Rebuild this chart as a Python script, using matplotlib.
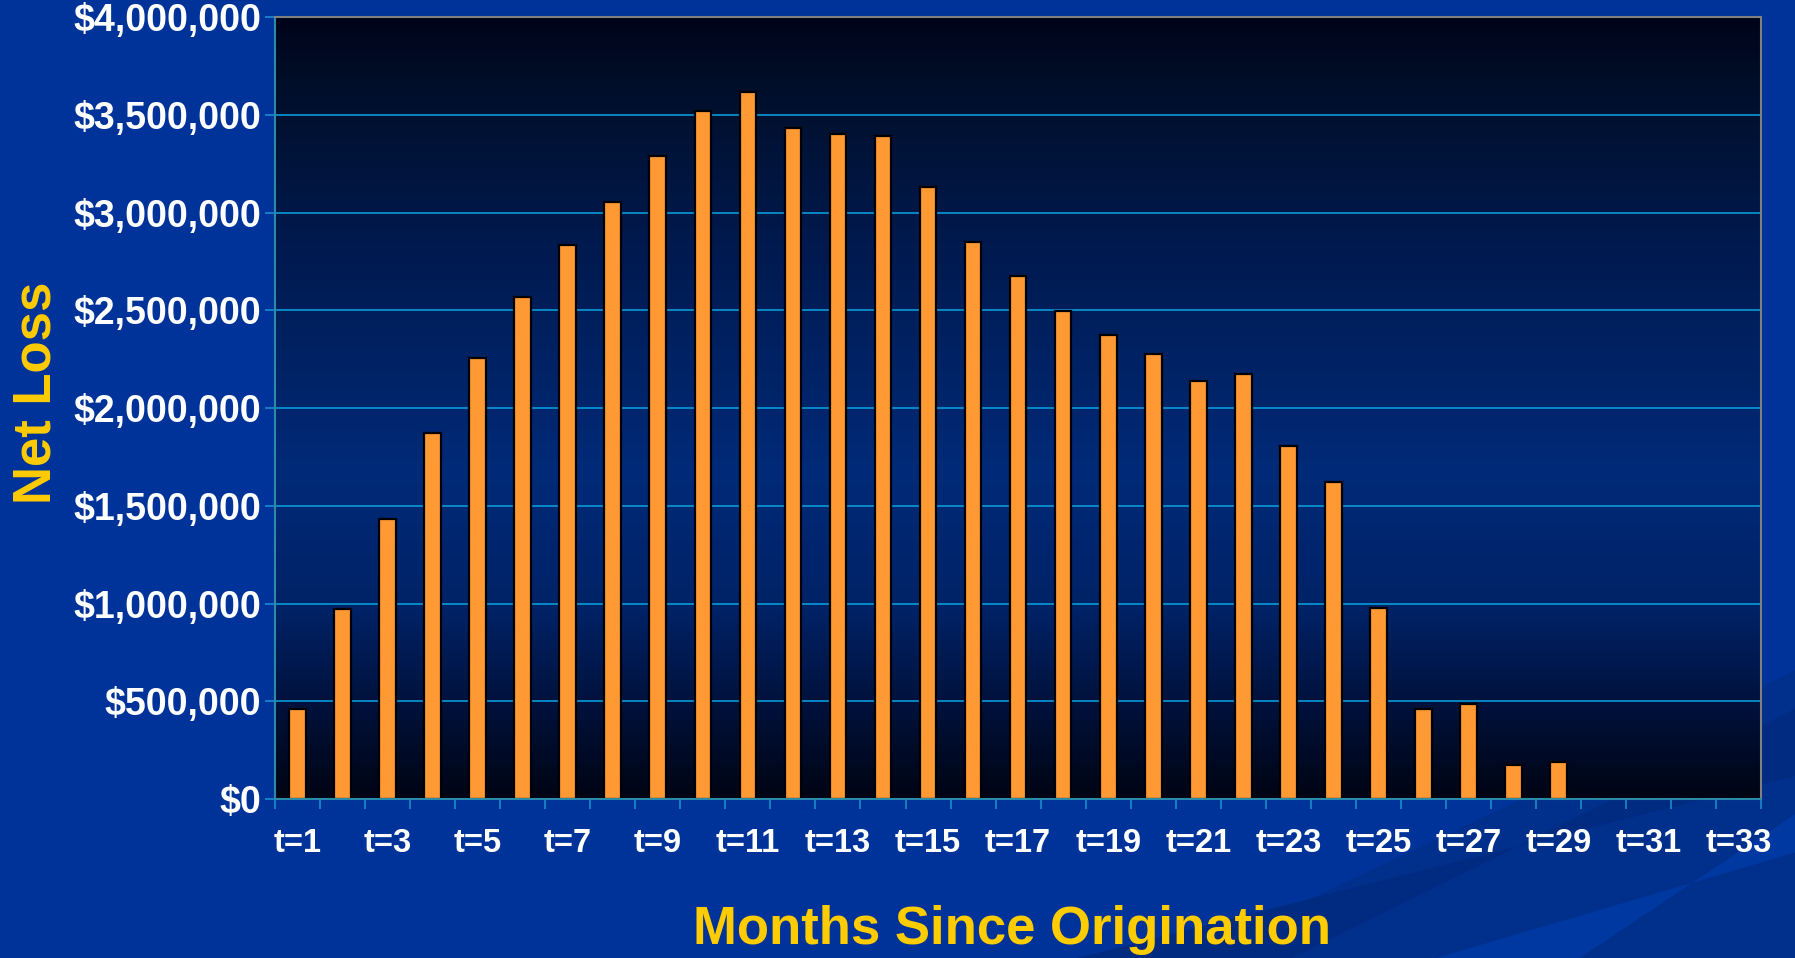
import matplotlib
matplotlib.use("Agg")
import matplotlib.pyplot as plt
import numpy as np
from matplotlib.colors import LinearSegmentedColormap
from matplotlib.patches import Polygon

# data
months = ["t=%d" % i for i in range(1, 34)]
net_loss = [462000, 972000, 1435000, 1874000, 2255000, 2571000, 2834000,
            3057000, 3291000, 3520000, 3619000, 3432000, 3402000, 3390000,
            3133000, 2852000, 2676000, 2495000, 2372000, 2278000, 2137000,
            2173000, 1804000, 1622000, 978000, 462000, 486000, 176000,
            187000, 0, 0, 0, 0]
y_ticks = [0, 500000, 1000000, 1500000, 2000000, 2500000, 3000000, 3500000, 4000000]

plt.rcParams["font.family"] = ["Liberation Sans", "DejaVu Sans"]
plt.rcParams["font.weight"] = "bold"

fig = plt.figure(figsize=(17.95, 9.58), dpi=100)
fig.patch.set_facecolor("#003399")

# decorative diagonal streaks of the slide template
streaks = [
    ([(0.50, 0.0), (1.0, 0.0), (1.0, 0.30), (0.66, 0.0)], "#002f8c"),
    ([(0.60, 0.0), (1.0, 0.19), (1.0, 0.26), (0.72, 0.0)], "#002b80"),
    ([(0.80, 0.0), (1.0, 0.11), (1.0, 0.15), (0.88, 0.0)], "#0038a2"),
]
for pts, c in streaks:
    fig.patches.append(Polygon(pts, closed=True, transform=fig.transFigure,
                               facecolor=c, edgecolor="none", zorder=-1))

ax = fig.add_axes([0.1532, 0.166, 0.828, 0.816])

x = np.arange(len(months))

# vertical gradient in the plot area
grad_cmap = LinearSegmentedColormap.from_list(
    "bg",
    [(0.0, "#00041a"), (0.08, "#000e28"), (0.3, "#001a50"),
     (0.58, "#002a78"), (0.76, "#002266"), (0.9, "#000f35"),
     (1.0, "#000514")])
grad = np.linspace(0, 1, 256).reshape(-1, 1)
ax.imshow(grad, cmap=grad_cmap, aspect="auto",
          extent=[-0.5, len(months) - 0.5, 0, 4000000], origin="upper", zorder=0)

ax.bar(x, net_loss, width=0.37, color="#ff9933", edgecolor="black",
       linewidth=1.6, zorder=3)

ax.set_xlim(-0.5, len(months) - 0.5)
ax.set_ylim(0, 4000000)

ax.set_yticks(y_ticks)
ax.set_yticklabels(["${:,}".format(v) for v in y_ticks])
ax.yaxis.grid(True, color="#0a99d6", linewidth=1.2, zorder=1)
ax.set_axisbelow(False)

# ticks between categories, labels on every other category
ax.set_xticks(np.arange(-0.5, len(months), 1.0))
ax.set_xticklabels([])
ax.set_xticks(x[::2], minor=True)
ax.set_xticklabels(months[::2], minor=True)
ax.tick_params(axis="x", which="major", length=7, width=1.2, color="#1a8ccc")
ax.tick_params(axis="x", which="minor", length=0, pad=21,
               labelsize=23.5, labelcolor="white")
ax.tick_params(axis="y", length=7, width=1.2, color="#1a8ccc",
               labelsize=27, labelcolor="white", pad=3)

for sp in ["top", "right"]:
    ax.spines[sp].set_color("#808080")
    ax.spines[sp].set_linewidth(1.5)
ax.spines["left"].set_color("#2a8aa8")
ax.spines["bottom"].set_color("#2a8aa8")
ax.spines["left"].set_linewidth(1.5)
ax.spines["bottom"].set_linewidth(1.5)
for sp in ax.spines.values():
    sp.set_zorder(4)

fig.text(0.0206, 0.59, "Net Loss", rotation=90, color="#ffcc00",
         fontsize=38, fontweight="bold", ha="center", va="center")
fig.text(0.564, 0.029, "Months Since Origination", color="#ffcc00",
         fontsize=38, fontweight="bold", ha="center", va="center")

plt.savefig("out.png", dpi=100, facecolor=fig.get_facecolor())
